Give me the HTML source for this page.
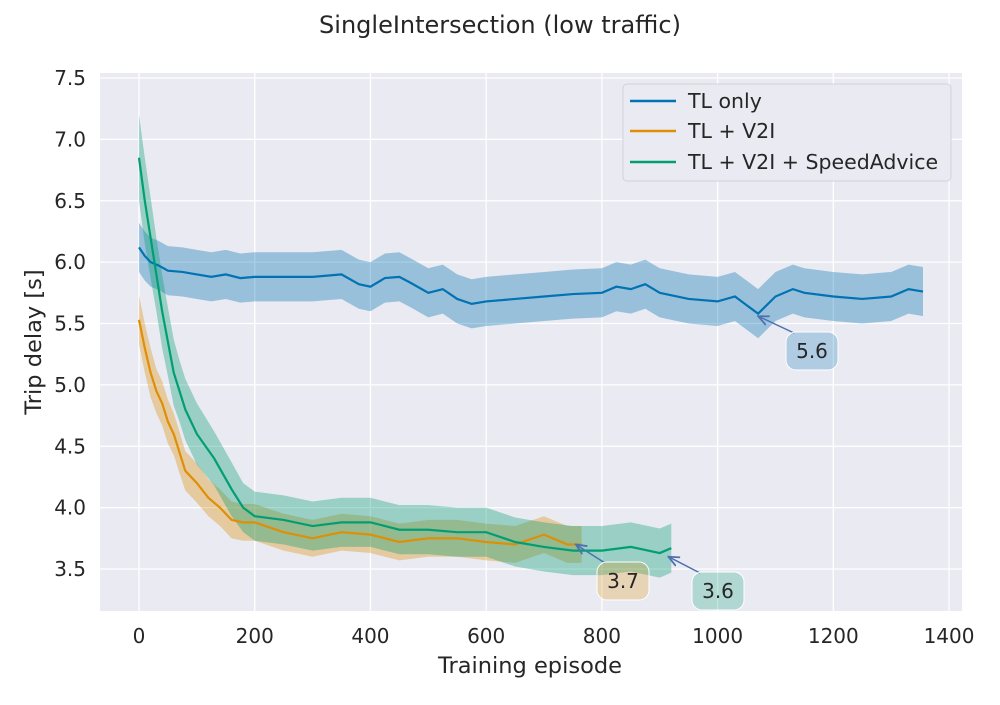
<!DOCTYPE html>
<html><head><meta charset="utf-8"><style>
body{margin:0;background:#fff;font-family:"Liberation Sans","DejaVu Sans",sans-serif}
svg text{font-family:"DejaVu Sans","Liberation Sans",sans-serif;fill:#262626}
</style></head><body>
<svg id="chart" width="1000" height="700">
<defs><marker id="ah" viewBox="0 0 10 10" refX="9" refY="5" markerWidth="8" markerHeight="8" orient="auto"><path d="M0,1 L9,5 L0,9" fill="none" stroke="#4c72b0" stroke-width="1.5"/></marker></defs>
<text x="500" y="33" font-size="24" text-anchor="middle">SingleIntersection (low traffic)</text>
<rect x="100" y="73" width="862" height="538" fill="#eaeaf2"/>
<g id="grid"></g><g id="bands"></g><g id="lines"></g><g id="ann"></g><g id="ticks"></g>
<text x="530" y="673" font-size="22.5" text-anchor="middle">Training episode</text>
<text transform="translate(41,342) rotate(-90)" font-size="22.5" text-anchor="middle">Trip delay [s]</text>
<g>
<rect x="623" y="84" width="328" height="97" rx="4" fill="#eaeaf2" stroke="#cccccc" stroke-opacity="0.8"/>
<line x1="630" y1="101" x2="676" y2="101" stroke="#0173b2" stroke-width="2.5"/>
<text x="688" y="108" font-size="20.5">TL only</text>
<line x1="630" y1="131" x2="676" y2="131" stroke="#de8f05" stroke-width="2.5"/>
<text x="688" y="138" font-size="20.5">TL + V2I</text>
<line x1="630" y1="162" x2="676" y2="162" stroke="#029e73" stroke-width="2.5"/>
<text x="688" y="169" font-size="20.5">TL + V2I + SpeedAdvice</text>
</g>
</svg>
<script>
const xTicks=[0,200,400,600,800,1000,1200,1400];
const yTicks=[3.5,4.0,4.5,5.0,5.5,6.0,6.5,7.0,7.5];
const blueX=[0,10,20,35,50,75,100,125,150,175,200,250,300,350,380,400,425,450,470,500,525,550,575,600,650,700,750,800,825,850,875,900,950,1000,1030,1050,1070,1100,1130,1150,1200,1250,1300,1330,1355];
const blueY=[6.12,6.05,6.0,5.97,5.93,5.92,5.9,5.88,5.9,5.87,5.88,5.88,5.88,5.9,5.82,5.8,5.87,5.88,5.83,5.75,5.78,5.7,5.66,5.68,5.7,5.72,5.74,5.75,5.8,5.78,5.82,5.75,5.7,5.68,5.72,5.65,5.58,5.72,5.78,5.75,5.72,5.7,5.72,5.78,5.76];
const blueErr=0.2;
const orangeX=[0,10,20,30,40,50,60,70,80,100,120,140,160,180,200,250,300,350,400,450,500,550,600,650,700,740,765];
const orangeY=[5.53,5.3,5.1,4.95,4.85,4.7,4.6,4.45,4.3,4.2,4.08,4.0,3.9,3.88,3.88,3.8,3.75,3.8,3.78,3.72,3.75,3.75,3.72,3.7,3.78,3.7,3.7];
const orangeErr=[0.2,0.2,0.2,0.18,0.18,0.18,0.17,0.17,0.16,0.16,0.15,0.15,0.15,0.15,0.15,0.15,0.15,0.15,0.15,0.15,0.15,0.15,0.15,0.15,0.15,0.15,0.15];
const greenX=[0,10,20,30,40,50,60,70,80,100,130,160,180,200,250,300,350,400,450,500,550,600,650,700,750,800,850,900,920];
const greenY=[6.85,6.5,6.2,5.9,5.6,5.35,5.1,4.95,4.8,4.6,4.4,4.15,4.0,3.93,3.9,3.85,3.88,3.88,3.82,3.82,3.8,3.8,3.72,3.68,3.65,3.65,3.68,3.63,3.67];
const greenErr=[0.35,0.35,0.33,0.3,0.3,0.28,0.27,0.25,0.25,0.25,0.22,0.22,0.2,0.2,0.2,0.2,0.2,0.2,0.2,0.2,0.2,0.2,0.2,0.2,0.2,0.2,0.2,0.2,0.2];
const X=v=>139+v*0.5786, Y=v=>569-(v-3.5)*122.75;
const NS='http://www.w3.org/2000/svg';
function mk(tag,attrs,parent){const e=document.createElementNS(NS,tag);for(const k in attrs)e.setAttribute(k,attrs[k]);document.getElementById(parent).appendChild(e);return e;}
xTicks.forEach(t=>{
 const l=mk('line',{x1:X(t),x2:X(t),y1:73,y2:611,stroke:'#fff','stroke-width':1.3},'grid');
 
 
 const tx=mk('text',{x:X(t),y:643,'font-size':20,'text-anchor':'middle'},'ticks');tx.textContent=t;
 
 
});
yTicks.forEach(t=>{
 const l=mk('line',{x1:100,x2:962,y1:Y(t),y2:Y(t),stroke:'#fff','stroke-width':1.3},'grid');
 
 
 const tx=mk('text',{x:86,y:Y(t)+7,'font-size':20,'text-anchor':'end'},'ticks');tx.textContent=t.toFixed(1);
 
 
});
function series(xs,ys,err,color,name){
 const e=i=>Array.isArray(err)?err[i]:err;
 let up=xs.map((x,i)=>X(x)+','+Y(ys[i]+e(i)));
 let dn=xs.map((x,i)=>X(x)+','+Y(ys[i]-e(i))).reverse();
 const b=mk('polygon',{points:up.concat(dn).join(' '),fill:color,'fill-opacity':0.35},'bands');
 
 
 const l=mk('polyline',{points:xs.map((x,i)=>X(x)+','+Y(ys[i])).join(' '),fill:'none',stroke:color,'stroke-width':2.2},'lines');
 
 
}
series(blueX,blueY,blueErr,'#0173b2','tl-only');
series(orangeX,orangeY,orangeErr,'#de8f05','tl-v2i');
series(greenX,greenY,greenErr,'#029e73','tl-v2i-speed');
function ann(x,y,bx,by,label,color,name){
 const a=mk('line',{x1:bx-18,y1:by-18,x2:X(x),y2:Y(y),stroke:'#4c72b0','stroke-width':1.5,'marker-end':'url(#ah)'},'ann');
 
 
 const r=mk('rect',{x:bx-26,y:by-19,width:52,height:38,rx:10,fill:color,'fill-opacity':0.25,stroke:'#fff'},'ann');
 
 
 const t=mk('text',{x:bx,y:by+7,'font-size':20,'text-anchor':'middle'},'ann');t.textContent=label;
 
 
}
ann(1070,5.56,812,351,'5.6','#0173b2','annotation-tl-only');
ann(755,3.7,623,581,'3.7','#de8f05','annotation-tl-v2i');
ann(915,3.6,718,591,'3.6','#029e73','annotation-tl-v2i-speed');
</script>
</body></html>
